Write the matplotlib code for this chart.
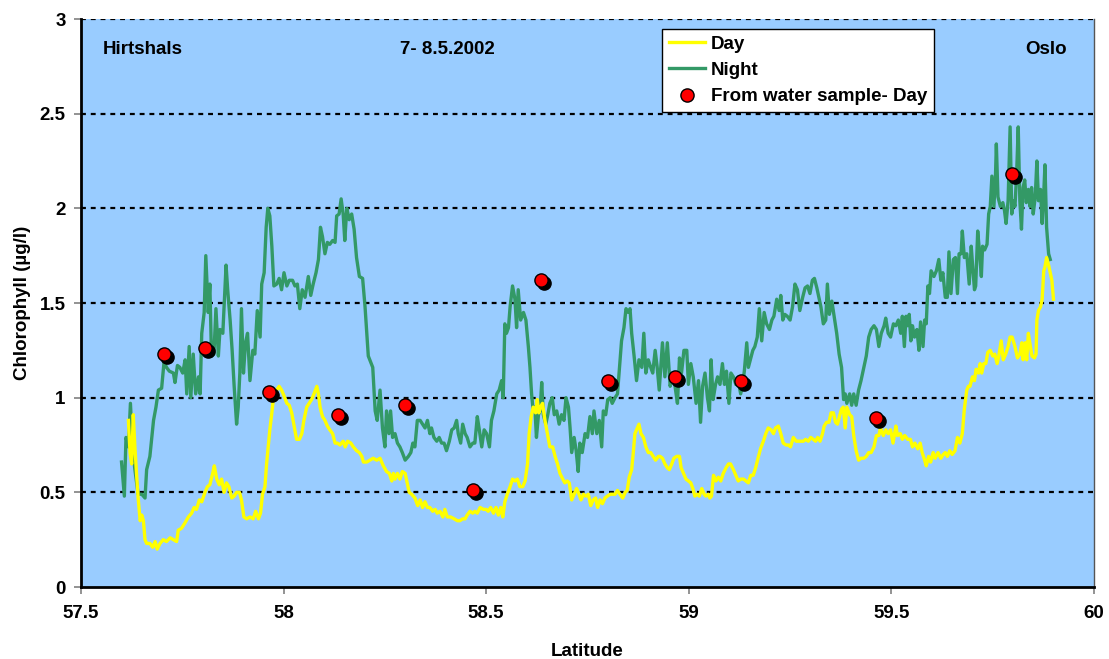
import matplotlib
matplotlib.use("Agg")
import matplotlib.pyplot as plt
import matplotlib.transforms as mtransforms
from matplotlib.lines import Line2D

# ---------------- data ----------------
night_lat = [
57.600,57.607,57.611,57.617,57.622,57.627,57.633,57.641,57.650,57.658,57.662,57.670,57.679,57.685,57.691,57.699,
57.705,57.711,57.718,57.728,57.732,57.738,57.744,57.751,57.757,57.761,57.767,57.771,57.777,57.783,57.790,57.794,
57.798,57.804,57.808,57.814,57.818,57.822,57.828,57.833,57.839,57.843,57.850,57.858,57.862,57.868,57.873,57.878,
57.884,57.888,57.892,57.896,57.901,57.906,57.911,57.917,57.924,57.929,57.935,57.942,57.946,57.952,57.957,57.961,
57.966,57.971,57.976,57.983,57.989,57.995,58.001,58.008,58.014,58.022,58.028,58.034,58.040,58.046,58.053,58.061,
58.067,58.073,58.080,58.086,58.091,58.096,58.102,58.108,58.114,58.121,58.127,58.131,58.137,58.142,58.147,58.151,
58.156,58.162,58.168,58.174,58.180,58.187,58.195,58.201,58.209,
58.220,58.226,58.231,58.238,58.244,58.250,58.254,58.260,58.264,58.269,58.275,58.281,58.287,58.293,58.300,58.308,
58.314,58.319,58.324,58.330,58.337,58.343,58.349,58.355,58.361,58.365,58.371,58.378,58.384,58.390,58.396,58.402,
58.409,58.415,58.421,58.427,58.431,58.437,58.442,58.448,58.453,58.460,58.467,58.472,58.478,58.483,58.489,58.495,
58.501,58.508,58.513,58.519,58.526,58.532,58.538,58.542,58.546,58.550,58.555,58.559,58.565,58.571,58.575,58.579,
58.585,58.592,58.598,58.604,58.608,58.612,58.616,58.620,58.624,58.629,58.633,58.637,58.641,58.647,58.652,58.657,
58.663,58.668,58.674,58.680,58.686,58.692,58.697,58.703,58.707,58.711,58.717,58.722,58.727,58.731,58.737,58.744,
58.750,58.756,58.762,58.766,58.773,58.779,58.785,58.789,58.795,58.800,58.806,58.811,58.818,58.824,58.829,58.834,
58.840,58.845,58.851,58.855,58.859,58.865,58.871,58.877,58.884,58.889,58.894,58.900,58.906,58.911,58.917,58.922,
58.927,
58.935,58.941,58.947,58.954,58.959,58.966,58.972,58.977,58.982,58.988,58.995,58.999,59.005,59.011,59.018,59.024,
59.029,59.034,59.040,59.046,59.051,59.055,59.060,59.066,59.071,59.077,59.083,59.088,59.093,59.099,59.104,59.110,
59.116,59.122,59.128,59.133,59.137,59.143,59.147,59.153,59.158,59.163,59.169,59.174,59.180,59.186,59.192,59.199,
59.205,59.210,59.217,59.223,59.227,59.232,59.237,59.243,59.250,59.256,59.262,59.268,59.274,59.281,59.287,59.293,
59.299,59.305,59.310,59.316,59.321,59.326,59.332,59.338,59.342,59.347,59.353,59.358,59.365,59.371,
59.377,59.382,59.386,59.390,59.397,59.402,59.407,59.413,59.419,59.425,59.432,59.438,59.444,59.450,59.457,59.463,
59.469,59.475,59.482,59.486,59.492,59.498,59.505,59.511,59.517,59.523,59.527,59.532,59.536,59.540,59.544,59.548,
59.552,59.557,59.563,59.568,59.572,59.578,59.582,59.586,59.590,59.594,59.598,59.605,59.611,59.617,59.622,59.627,
59.633,59.638,59.642,59.647,59.653,59.658,59.663,59.667,59.672,59.675,59.680,59.686,59.692,59.697,59.700,59.705,
59.708,59.713,59.717,59.722,59.725,59.730,59.736,59.740,59.744,59.748,59.753,59.757,59.759,59.763,59.769,59.775,
59.779,59.783,59.788,59.793,59.797,59.801,59.805,59.809,59.813,59.817,59.821,59.825,59.829,59.833,59.838,59.842,
59.846,59.850,59.855,59.859,59.863,59.868,59.872,59.876,59.879,59.883,59.888,59.892]
night_chl = [
0.66,0.48,0.79,0.74,0.97,0.74,0.62,0.49,0.49,0.47,0.62,0.69,0.88,0.95,1.04,1.05,
1.19,1.16,1.14,1.13,1.08,1.17,1.16,1.13,1.20,1.02,1.27,1.00,1.23,1.02,1.11,1.02,
1.34,1.45,1.75,1.45,1.60,1.22,1.23,1.47,1.22,1.36,1.34,1.70,1.57,1.41,1.25,1.06,
0.86,0.95,1.13,1.47,1.13,1.29,1.34,1.09,1.25,1.23,1.46,1.32,1.60,1.66,1.90,2.00,
1.96,1.80,1.59,1.60,1.63,1.57,1.66,1.59,1.62,1.62,1.59,1.60,1.47,1.57,1.53,1.64,
1.54,1.60,1.66,1.73,1.90,1.85,1.76,1.82,1.81,1.83,1.82,1.96,1.97,2.05,1.97,1.83,
2.00,1.94,1.97,1.89,1.74,1.64,1.63,1.48,1.22,
1.16,0.93,0.88,1.04,0.84,0.74,0.93,0.81,0.93,0.79,0.81,0.76,0.74,0.71,0.67,0.69,
0.71,0.76,0.74,0.88,0.88,0.86,0.84,0.88,0.81,0.84,0.79,0.77,0.79,0.76,0.76,0.72,
0.77,0.83,0.84,0.88,0.81,0.76,0.86,0.81,0.79,0.74,0.76,0.76,0.90,0.83,0.74,0.83,
0.81,0.74,0.88,0.93,1.02,1.04,1.09,1.00,1.39,1.34,1.37,1.48,1.59,1.52,1.37,1.57,
1.41,1.45,1.41,1.27,1.16,1.02,0.93,0.95,0.79,0.91,0.93,1.08,0.91,0.86,0.91,0.97,
1.00,0.91,0.93,0.86,0.91,0.88,1.00,0.95,0.84,0.71,0.79,0.72,0.61,0.76,0.71,0.81,
0.79,0.90,0.81,0.93,0.81,0.88,0.74,0.93,0.91,0.99,1.00,0.97,1.00,1.02,1.16,1.30,
1.37,1.47,1.45,1.47,1.34,1.22,1.09,1.20,1.16,1.34,1.13,1.20,1.16,1.13,1.25,1.16,
1.04,
1.29,1.11,1.29,1.06,1.11,1.06,0.97,1.21,1.13,1.25,1.25,1.07,1.18,1.11,0.97,1.09,
0.87,1.06,1.13,1.00,0.93,1.20,0.99,1.07,1.11,1.07,1.18,1.07,1.14,0.97,1.13,1.11,
1.07,1.09,1.02,1.07,1.14,1.29,1.16,1.21,1.25,1.27,1.32,1.47,1.30,1.45,1.39,1.36,
1.41,1.43,1.52,1.46,1.54,1.41,1.44,1.43,1.41,1.48,1.60,1.57,1.46,1.53,1.58,1.59,
1.55,1.62,1.63,1.58,1.53,1.48,1.39,1.41,1.60,1.44,1.51,1.44,1.34,1.23,
1.16,0.99,1.02,0.97,1.02,0.96,1.02,0.96,1.04,1.09,1.16,1.22,1.32,1.36,1.38,1.36,
1.27,1.34,1.38,1.42,1.34,1.32,1.39,1.38,1.41,1.34,1.43,1.27,1.43,1.38,1.44,1.30,
1.38,1.32,1.36,1.25,1.40,1.27,1.41,1.39,1.59,1.55,1.67,1.64,1.67,1.73,1.62,1.66,
1.53,1.53,1.77,1.55,1.73,1.74,1.55,1.76,1.76,1.88,1.74,1.76,1.60,1.80,1.71,1.57,
1.59,1.88,1.78,1.64,1.80,1.78,1.81,1.97,2.01,2.17,2.01,2.18,2.34,2.06,2.01,2.03,
1.99,1.92,2.04,2.43,1.97,2.04,2.01,2.18,2.43,2.04,1.89,2.11,2.15,2.03,2.10,2.01,
2.11,1.97,2.06,2.25,2.04,2.10,1.92,2.08,2.23,1.90,1.76,1.73]

day_lat = [
57.617,57.621,57.625,57.629,57.633,57.637,57.641,57.646,57.650,57.654,57.658,57.662,57.670,57.677,57.683,57.688,
57.695,57.703,57.711,57.720,57.728,57.736,57.740,57.748,57.757,57.765,57.773,57.779,57.785,57.792,57.798,57.806,
57.812,57.818,57.825,57.829,57.835,57.841,57.847,57.853,57.859,57.865,57.872,57.878,57.884,57.891,57.896,57.902,
57.909,57.917,57.925,57.931,57.938,57.943,57.948,57.954,57.958,57.962,57.966,57.971,57.976,57.983,57.989,57.995,
58.001,58.008,58.014,58.020,58.026,58.032,58.039,58.045,58.050,58.057,58.063,58.069,58.075,58.082,58.086,58.090,
58.096,58.102,58.108,58.114,58.121,58.127,58.133,58.139,58.147,58.152,58.158,58.166,58.172,58.180,58.187,58.193,
58.197,58.205,58.213,
58.221,58.230,58.238,58.246,58.254,58.261,58.267,58.271,58.275,58.281,58.287,58.293,58.300,58.305,58.310,58.316,
58.324,58.331,58.337,58.343,58.349,58.355,58.361,58.368,58.374,58.379,58.386,58.393,58.398,58.404,58.412,58.421,
58.429,58.435,58.442,58.448,58.453,58.460,58.467,58.472,58.478,58.485,58.493,58.500,58.505,58.511,58.518,58.524,
58.530,58.536,58.541,58.546,58.552,58.559,58.565,58.571,58.577,58.583,58.590,58.596,58.602,58.606,58.611,58.616,
58.622,58.626,58.630,58.634,58.639,58.645,58.651,58.657,58.664,58.670,58.676,58.682,58.689,58.694,58.700,58.705,
58.711,58.717,58.723,58.729,58.734,58.740,58.746,58.752,58.758,58.764,58.770,58.775,58.781,58.787,58.793,58.799,
58.806,58.812,58.818,58.824,58.830,58.837,58.843,58.848,58.853,58.859,58.863,58.867,58.871,58.877,58.882,58.888,
58.894,58.900,58.906,58.912,58.918,58.925,
58.929,58.935,58.941,58.947,58.952,58.958,58.963,58.970,58.977,58.981,58.987,58.993,58.999,59.005,59.010,59.015,
59.021,59.026,59.032,59.038,59.042,59.048,59.052,59.056,59.061,59.067,59.073,59.079,59.085,59.092,59.098,59.103,
59.110,59.116,59.122,59.128,59.135,59.141,59.147,59.153,59.159,59.165,59.172,59.177,59.184,59.190,59.196,59.203,
59.209,59.214,59.221,59.227,59.233,59.240,59.246,59.251,59.258,59.265,59.270,59.276,59.283,59.288,59.295,59.301,
59.307,59.313,59.318,59.324,59.330,59.334,59.340,59.346,59.351,59.357,59.362,59.367,59.373,
59.377,59.381,59.386,59.390,59.397,59.402,59.407,59.413,59.419,59.425,59.432,59.438,59.444,59.450,59.457,59.463,
59.469,59.473,59.480,59.486,59.492,59.498,59.504,59.511,59.515,59.522,59.527,59.533,59.540,59.547,59.552,59.558,
59.565,59.571,59.576,59.582,59.586,59.592,59.597,59.603,59.608,59.615,59.622,59.628,59.633,59.638,59.644,59.650,
59.657,59.663,59.669,59.675,59.680,59.686,59.690,59.694,59.700,59.705,59.709,59.715,59.719,59.723,59.728,59.733,
59.738,59.744,59.750,59.755,59.761,59.765,59.771,59.776,59.782,59.788,59.793,59.798,59.805,59.811,59.817,59.822,
59.825,59.830,59.834,59.838,59.843,59.847,59.853,59.857,59.859,59.863,59.868,59.872,59.876,59.879,59.883,59.888,
59.892,59.896,59.900]
day_chl = [
0.88,0.71,0.65,0.91,0.74,0.60,0.47,0.35,0.38,0.35,0.25,0.23,0.23,0.21,0.24,0.20,
0.23,0.25,0.24,0.26,0.25,0.24,0.30,0.31,0.34,0.37,0.39,0.42,0.41,0.46,0.45,0.50,
0.53,0.54,0.60,0.64,0.57,0.54,0.57,0.50,0.55,0.53,0.47,0.48,0.50,0.50,0.46,0.37,
0.36,0.37,0.36,0.40,0.36,0.39,0.49,0.53,0.65,0.74,0.83,0.92,1.02,1.04,1.06,1.04,
1.01,0.97,0.96,0.92,0.85,0.78,0.78,0.81,0.88,0.95,0.97,0.99,1.02,1.06,1.02,0.95,
0.90,0.88,0.85,0.83,0.81,0.76,0.76,0.75,0.77,0.74,0.77,0.76,0.74,0.72,0.71,0.69,
0.66,0.66,0.67,
0.68,0.67,0.68,0.64,0.61,0.60,0.56,0.60,0.57,0.60,0.57,0.61,0.60,0.55,0.50,0.49,
0.47,0.43,0.46,0.42,0.45,0.42,0.42,0.40,0.41,0.39,0.40,0.37,0.41,0.37,0.37,0.36,
0.35,0.35,0.36,0.36,0.38,0.40,0.39,0.40,0.39,0.42,0.41,0.41,0.40,0.42,0.39,0.42,
0.38,0.42,0.37,0.45,0.49,0.53,0.57,0.56,0.57,0.53,0.53,0.56,0.65,0.81,0.90,0.95,
0.92,0.99,0.92,0.95,0.97,0.88,0.81,0.74,0.74,0.69,0.65,0.60,0.57,0.55,0.56,0.55,
0.46,0.49,0.52,0.49,0.46,0.49,0.48,0.49,0.43,0.46,0.47,0.42,0.46,0.44,0.47,0.48,
0.49,0.49,0.49,0.51,0.49,0.47,0.50,0.51,0.58,0.62,0.71,0.81,0.83,0.86,0.81,0.79,
0.74,0.71,0.71,0.69,0.67,0.69,
0.69,0.68,0.65,0.63,0.62,0.65,0.68,0.69,0.69,0.63,0.60,0.57,0.56,0.55,0.52,0.48,
0.49,0.48,0.52,0.49,0.48,0.49,0.47,0.48,0.59,0.56,0.58,0.56,0.60,0.63,0.65,0.65,
0.62,0.59,0.56,0.57,0.57,0.56,0.55,0.59,0.59,0.63,0.69,0.73,0.77,0.81,0.84,0.83,
0.81,0.84,0.85,0.81,0.76,0.75,0.75,0.74,0.79,0.77,0.77,0.77,0.77,0.78,0.77,0.79,
0.78,0.77,0.79,0.77,0.81,0.85,0.87,0.87,0.92,0.92,0.87,0.86,0.91,
0.94,0.95,0.84,0.95,0.91,0.90,0.80,0.72,0.67,0.68,0.68,0.69,0.71,0.71,0.74,0.80,
0.80,0.84,0.80,0.83,0.81,0.83,0.76,0.85,0.80,0.81,0.78,0.80,0.78,0.78,0.74,0.76,
0.73,0.76,0.71,0.67,0.64,0.69,0.66,0.71,0.68,0.71,0.68,0.70,0.71,0.69,0.72,0.70,
0.72,0.79,0.76,0.81,0.94,1.04,1.06,1.06,1.11,1.09,1.15,1.13,1.18,1.13,1.18,1.18,
1.24,1.25,1.22,1.23,1.18,1.22,1.30,1.20,1.23,1.27,1.32,1.32,1.27,1.21,1.23,1.29,
1.20,1.29,1.20,1.34,1.27,1.22,1.21,1.23,1.41,1.46,1.48,1.52,1.67,1.69,1.74,1.70,
1.66,1.62,1.52]

sample_lat = [57.705, 57.806, 57.964, 58.134, 58.300, 58.467, 58.635, 58.801, 58.966, 59.129, 59.462, 59.798]
sample_chl = [1.23, 1.26, 1.03, 0.91, 0.96, 0.51, 1.62, 1.09, 1.11, 1.09, 0.89, 2.18]

x_ticks = [57.5, 58, 58.5, 59, 59.5, 60]
x_tick_labels = ["57.5", "58", "58.5", "59", "59.5", "60"]
y_ticks = [0, 0.5, 1, 1.5, 2, 2.5, 3]
y_tick_labels = ["0", "0.5", "1", "1.5", "2", "2.5", "3"]

# ---------------- plot ----------------
FONT = ["Liberation Sans", "DejaVu Sans"]
plt.rcParams["font.family"] = FONT
plt.rcParams["font.weight"] = "bold"
FS = 13.5

fig = plt.figure(figsize=(11.09, 6.59), dpi=100, facecolor="white")
ax = fig.add_axes([81/1109, 1 - 587/659, (1094 - 81)/1109, (587 - 19)/659])
ax.set_facecolor("#99CCFF")

for yv in y_ticks[1:]:
    ax.axhline(yv, color="black", linestyle=(0, (2.2, 2.2)), linewidth=1.6, zorder=1)

ax.plot(day_lat, day_chl, color="#FFFF00", linewidth=2.4, zorder=3, label="Day")
ax.plot(night_lat, night_chl, color="#339966", linewidth=2.4, zorder=2, label="Night")

shadow = mtransforms.offset_copy(ax.transData, fig=fig, x=3, y=-3, units="dots")
ax.plot(sample_lat, sample_chl, linestyle="none", marker="o", markersize=9.5,
        markerfacecolor="black", markeredgecolor="black", transform=shadow, zorder=4)
ax.plot(sample_lat, sample_chl, linestyle="none", marker="o", markersize=9.5,
        markerfacecolor="#FF0000", markeredgecolor="black", markeredgewidth=1.0, zorder=5)

ax.set_xlim(57.5, 60)
ax.set_ylim(0, 3)
ax.set_xticks(x_ticks)
ax.set_xticklabels(x_tick_labels, fontsize=FS, fontweight="bold")
ax.set_yticks(y_ticks)
ax.set_yticklabels(y_tick_labels, fontsize=FS, fontweight="bold")
ax.tick_params(axis="both", direction="out", length=5, width=1.2, color="#808080", pad=6)
ax.tick_params(axis="x", pad=8)

for s in ["left", "bottom"]:
    ax.spines[s].set_linewidth(2.0)
    ax.spines[s].set_color("black")
ax.spines["top"].set_visible(False)
ax.spines["right"].set_linewidth(1.0)
ax.spines["right"].set_color("#555555")

ax.set_xlabel("Latitude", fontsize=FS, fontweight="bold", labelpad=15)
ax.set_ylabel("Chlorophyll (µg/l)", fontsize=FS, fontweight="bold", labelpad=6)

ax.text(0.021, 0.947, "Hirtshals", transform=ax.transAxes, fontsize=FS, fontweight="bold",
        ha="left", va="center")
ax.text(0.362, 0.947, "7- 8.5.2002", transform=ax.transAxes, fontsize=FS, fontweight="bold",
        ha="center", va="center")
ax.text(0.953, 0.947, "Oslo", transform=ax.transAxes, fontsize=FS, fontweight="bold",
        ha="center", va="center")

handles = [
    Line2D([], [], color="#FFFF00", linewidth=2.4),
    Line2D([], [], color="#339966", linewidth=2.4),
    Line2D([], [], linestyle="none", marker="o", markersize=9.5,
           markerfacecolor="#FF0000", markeredgecolor="black"),
]
leg = ax.legend(handles, ["Day", "Night", "From water sample- Day"],
                loc="upper left", bbox_to_anchor=(0.5735, 0.982),
                frameon=True, fancybox=False, edgecolor="black", facecolor="white",
                framealpha=1.0, borderpad=0.35, labelspacing=0.48, handlelength=1.95,
                handletextpad=0.3, borderaxespad=0,
                prop={"size": FS, "weight": "bold", "family": FONT})
leg.get_frame().set_linewidth(1.0)
leg.set_zorder(10)

fig.savefig("out.png", dpi=100, facecolor="white")
